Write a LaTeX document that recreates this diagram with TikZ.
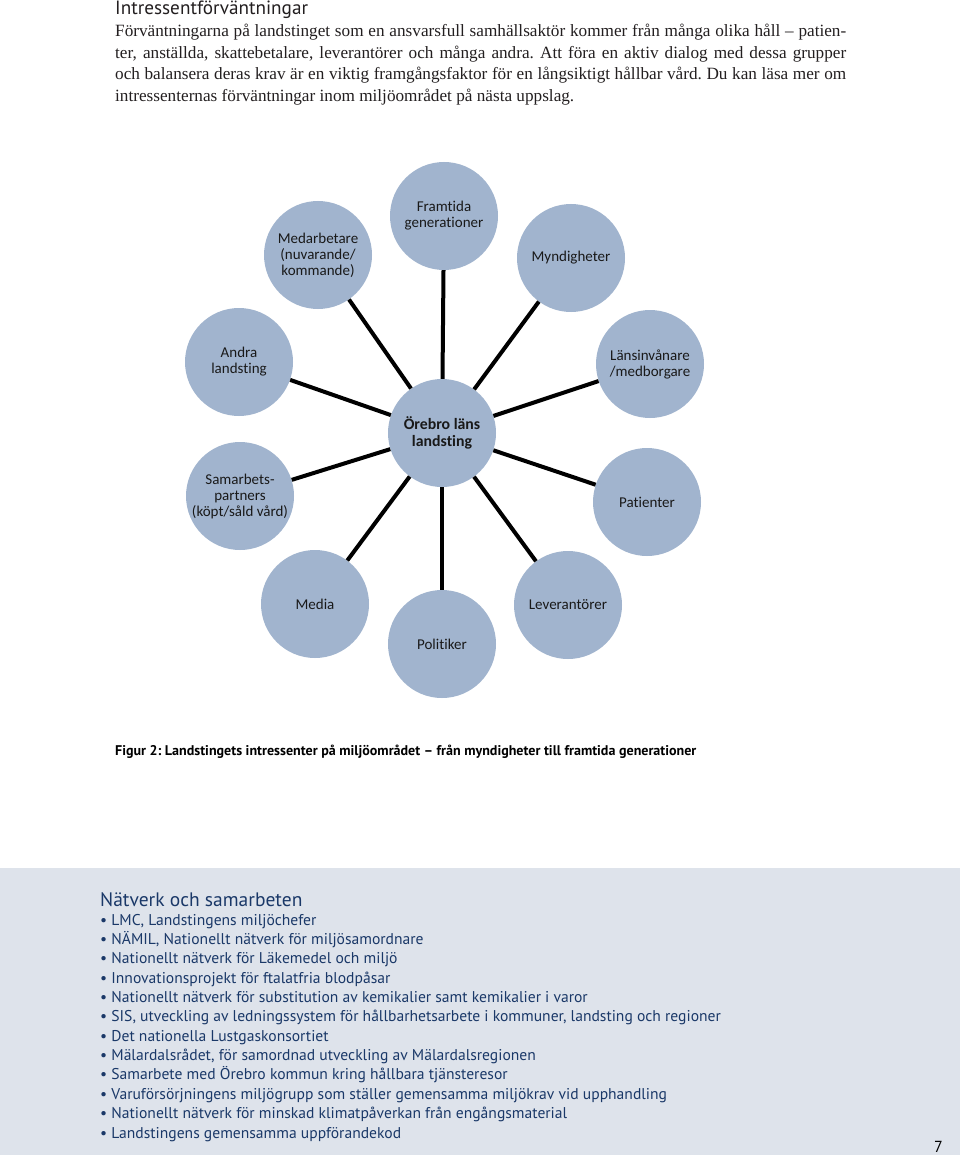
\documentclass[tikz,border=0pt]{standalone}
\usepackage{fontspec}
\setmainfont{Liberation Serif}
\newfontfamily\circfont[Ligatures={NoCommon}]{Carlito}
\newfontfamily\frut[Ligatures={NoCommon}]{PT Sans}
\newfontfamily\bodyfont{Liberation Serif}
\definecolor{circfill}{RGB}{161,180,206}
\definecolor{panel}{RGB}{222,227,235}
\definecolor{navy}{RGB}{26,56,104}
\definecolor{bodytext}{RGB}{35,31,32}
\frenchspacing
\begin{document}
\begin{tikzpicture}[x=1pt,y=-1pt,
  bub/.style={circle,fill=circfill,minimum size=108pt,inner sep=0pt,align=center,
    font=\circfont\fontsize{15}{16}\selectfont,text=black!90},
  hub/.style={bub,font=\circfont\bfseries\fontsize{15.8}{17}\selectfont},
  conn/.style={line width=4pt,black},
  bodyline/.style={anchor=base west,inner sep=0pt,text=bodytext,font=\bodyfont\fontsize{17.2}{20}\selectfont},
  bul/.style={anchor=base west,inner sep=0pt,text=navy,font=\frut\fontsize{15.6}{17}\selectfont}
]
\useasboundingbox (0,0) rectangle (960,1155);
\fill[white] (0,0) rectangle (960,1155);
\fill[panel] (0,868) rectangle (960,1155);

% heading and body text
\node[anchor=base west,inner sep=0pt,text=bodytext,font=\frut\fontsize{19.2}{21}\selectfont] (head) at (115,15) {Intressentförväntningar};
\node[bodyline] (l1) at (115,37) {\makebox[731pt][s]{Förväntningarna på landstinget som en ansvarsfull samhällsaktör kommer från många olika håll – patien-}};
\node[bodyline] (l2) at (115,58.5) {\makebox[731pt][s]{ter, anställda, skattebetalare, leverantörer och många andra. Att föra en aktiv dialog med dessa grupper}};
\node[bodyline] (l3) at (115,80) {\makebox[731pt][s]{och balansera deras krav är en viktig framgångsfaktor för en långsiktigt hållbar vård. Du kan läsa mer om}};
\node[bodyline] (l4) at (115,102) {intressenternas förväntningar inom miljöområdet på nästa uppslag.};

% diagram
\node[hub] (c) at (442,433) {Örebro läns\\landsting};
\node[bub] (fg) at (444,216) {Framtida\\generationer};
\node[bub] (med) at (318,255) {Medarbetare\\(nuvarande/\\kommande)};
\node[bub] (myn) at (571,258) {Myndigheter};
\node[bub] (and) at (239,362) {Andra\\landsting};
\node[bub] (lan) at (650,364) {Länsinvånare\\/medborgare};
\node[bub] (sam) at (240,496) {Samarbets-\\partners\\(köpt/såld vård)};
\node[bub] (pat) at (647,502) {Patienter};
\node[bub] (media) at (315,604) {Media};
\node[bub] (lev) at (568,605) {Leverantörer};
\node[bub] (pol) at (442,644) {Politiker};

\foreach \n in {fg,med,myn,and,lan,sam,pat,media,lev,pol}
  \draw[conn] (c) -- (\n);

% caption
\node[anchor=base west,inner sep=0pt,text=black,font=\frut\bfseries\fontsize{14.05}{16}\selectfont] (cap) at (115,755)
  {Figur 2: Landstingets intressenter på miljöområdet – från myndigheter till framtida generationer};

% panel
\node[anchor=base west,inner sep=0pt,text=navy,font=\frut\fontsize{19.5}{21}\selectfont] (ptitle) at (100,906) {Nätverk och samarbeten};
\node[bul] (b1) at (100,925) {• LMC, Landstingens miljöchefer};
\node[bul] (b2) at (100,944.4) {• NÄMIL, Nationellt nätverk för miljösamordnare};
\node[bul] (b3) at (100,963.7) {• Nationellt nätverk för Läkemedel och miljö};
\node[bul] (b4) at (100,983.1) {• Innovationsprojekt för ftalatfria blodpåsar};
\node[bul] (b5) at (100,1002.4) {• Nationellt nätverk för substitution av kemikalier samt kemikalier i varor};
\node[bul] (b6) at (100,1021.8) {• SIS, utveckling av ledningssystem för hållbarhetsarbete i kommuner, landsting och regioner};
\node[bul] (b7) at (100,1041.2) {• Det nationella Lustgaskonsortiet};
\node[bul] (b8) at (100,1060.5) {• Mälardalsrådet, för samordnad utveckling av Mälardalsregionen};
\node[bul] (b9) at (100,1079.9) {• Samarbete med Örebro kommun kring hållbara tjänsteresor};
\node[bul] (b10) at (100,1099.2) {• Varuförsörjningens miljögrupp som ställer gemensamma miljökrav vid upphandling};
\node[bul] (b11) at (100,1118.6) {• Nationellt nätverk för minskad klimatpåverkan från engångsmaterial};
\node[bul] (b12) at (100,1138) {• Landstingens gemensamma uppförandekod};
\node[anchor=base west,inner sep=0pt,text=black,font=\frut\fontsize{16}{18}\selectfont] (pg) at (934,1152) {7};
\end{tikzpicture}
\end{document}
